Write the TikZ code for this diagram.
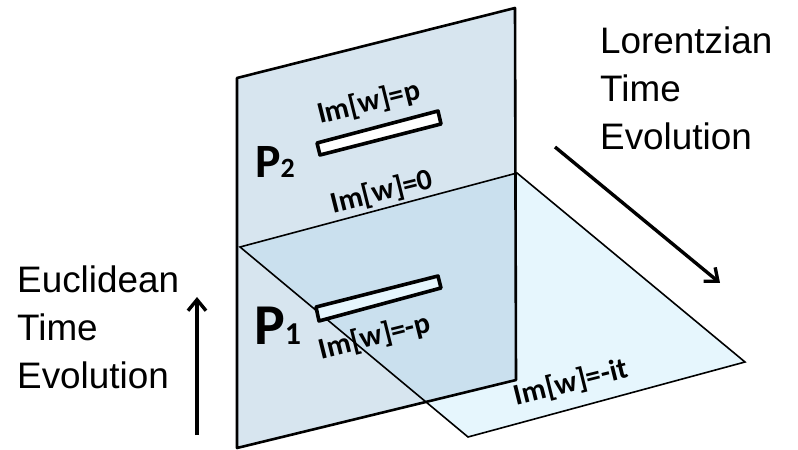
\documentclass[tikz,border=0pt]{standalone}
\usepackage{fontspec}
\setmainfont{Liberation Sans}
\newfontfamily\calibri{Carlito}
\usetikzlibrary{arrows.meta}
\definecolor{sheetblue}{HTML}{B0CCE0}
\definecolor{floorblue}{HTML}{E6F6FD}

\begin{document}
\begin{tikzpicture}[x=1bp,y=-1bp,>={Straight Barb[length=11bp,width=18bp]},
  imlabel/.style={font=\calibri\bfseries\fontsize{30}{30}\selectfont,rotate=14,inner sep=0pt},
  caption/.style={font=\fontsize{37}{48}\selectfont,align=left,anchor=north west,inner sep=0pt},
  plabel/.style={font=\calibri\bfseries,anchor=base west,inner sep=0pt}]
  \useasboundingbox (0,0) rectangle (798,450);

  \fill[floorblue] (240,247) -- (517,173) -- (745,362) -- (468,437) -- cycle;
  \fill[sheetblue,opacity=0.5] (237,78) -- (515,8) -- (516,380) -- (237,448) -- cycle;
  \draw[line width=1.6bp] (240,247) -- (517,173) -- (745,362) -- (468,437) -- cycle;
  \draw[line width=2.6bp,line join=round]
    (237,78) -- (515,8) -- (516,380) -- (237,448) -- cycle;

  \draw[line width=3.6bp,line join=round,fill=white]
    (317,143) -- (438,111) -- (441,124) -- (320,155) -- cycle;
  \draw[line width=3.6bp,line join=round,fill=floorblue]
    (316,307) -- (438,276) -- (441,288) -- (319,321) -- cycle;

  \foreach \pos/\val/\nm in {(369,103)/p/top,(382,192)/0/mid,(375,337)/-p/low,(571,383)/-it/floor}
  {
    \node[imlabel] (im-\nm) at \pos {Im[w]=\val};
  }

  \node[plabel] (p2) at (255,178)
    {\fontsize{48}{48}\selectfont P\fontsize{28}{28}\selectfont 2};
  \node[plabel] (p1) at (254,345)
    {\fontsize{58}{58}\selectfont P\fontsize{32}{32}\selectfont 1};

  \node[caption] (euclid) at (17,266) {Euclidean\\Time\\Evolution};
  \node[caption] (lorentz) at (600,27) {Lorentzian\\Time\\Evolution};

  \coordinate (euclid-tail) at (197,435);
  \coordinate (euclid-head) at (197,297);
  \coordinate (lorentz-tail) at (555,147);
  \coordinate (lorentz-head) at (720,283);
  \draw[->,line width=3.4bp] (euclid-tail) -- (euclid-head);
  \draw[->,line width=3.4bp] (lorentz-tail) -- (lorentz-head);
\end{tikzpicture}
\end{document}
